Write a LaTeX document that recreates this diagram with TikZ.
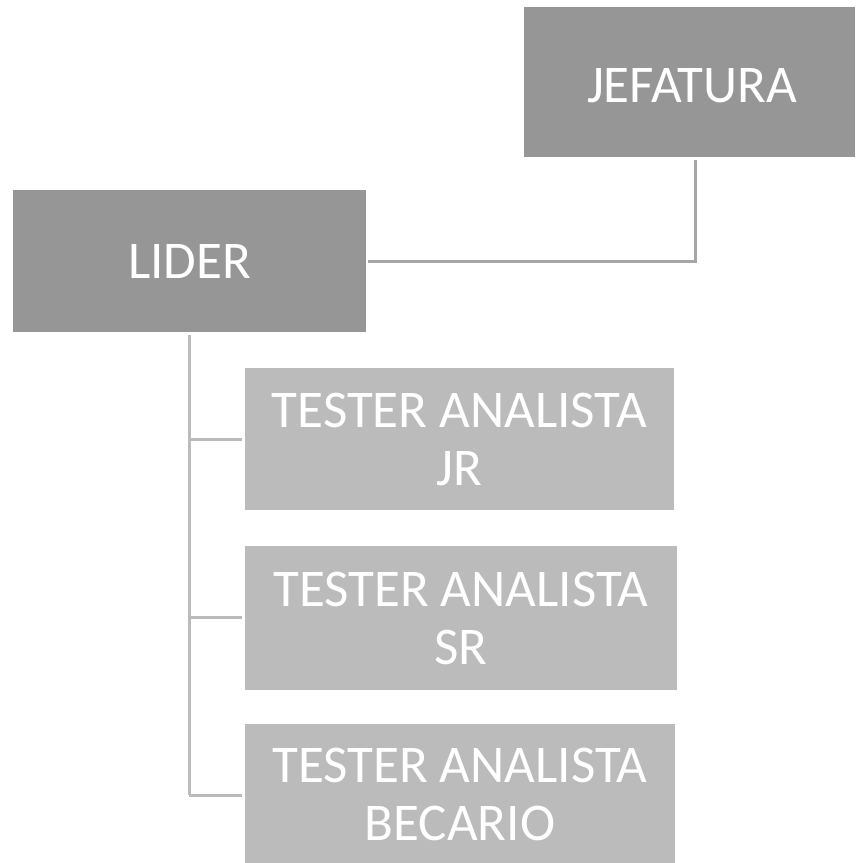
\documentclass[tikz,border=0pt]{standalone}
\usepackage{fontspec}
\setmainfont{Carlito}
\definecolor{boxdark}{HTML}{969696}
\definecolor{boxlight}{HTML}{BBBBBB}
\definecolor{linkdark}{HTML}{A6A6A6}
\definecolor{linklight}{HTML}{BBBBBB}
\begin{document}
\begin{tikzpicture}[x=1pt,y=-1pt,
  orgbox/.style={rectangle, inner sep=0pt, text=white, align=center,
    font=\fontsize{53}{58}\selectfont},
  headbox/.style={orgbox, fill=boxdark},
  staffbox/.style={orgbox, fill=boxlight},
  toplink/.style={draw=linkdark, line width=3pt},
  sublink/.style={draw=linklight, line width=3pt}]
\useasboundingbox (0,0) rectangle (855,863);
% boxes
\node[headbox, minimum width=331pt, minimum height=150pt] (jef) at (689.5,82) {};
\node (jeftext) at (692,86) [orgbox] {JEFATURA};
\node[headbox, minimum width=353pt, minimum height=142pt] (lid) at (189.5,261) {LIDER};
\node[staffbox, minimum width=429pt, minimum height=142pt] (jr) at (459.5,439) {TESTER ANALISTA\\JR};
\node[staffbox, minimum width=432pt, minimum height=144pt] (sr) at (461,618) {TESTER ANALISTA\\SR};
\node[staffbox, minimum width=430pt, minimum height=140pt] (bec) at (460,794) {TESTER ANALISTA\\BECARIO};
% connector from the head office down to the leader
\coordinate (jtop) at (695,160);
\coordinate (jcorner) at (695,261);
\coordinate (lend) at (368,261);
\draw[toplink] (jtop) -- (jcorner) -- (lend);
% trunk from the leader to the testers
\coordinate (ltop) at (189,335);
\coordinate (b1) at (189,439);
\coordinate (b2) at (189,617);
\coordinate (b3) at (189,795);
\draw[sublink] (ltop) -- (b3);
\draw[sublink] (b1) -- ([xshift=-3pt]b1 -| jr.west);
\draw[sublink] (b2) -- ([xshift=-3pt]b2 -| sr.west);
\draw[sublink] (b3) -- ([xshift=-3pt]b3 -| bec.west);
\end{tikzpicture}
\end{document}
